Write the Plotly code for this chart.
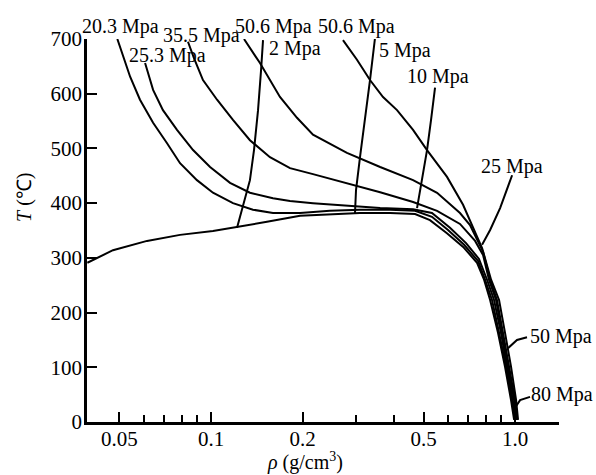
import math
import plotly.graph_objects as go

# Saturation (coexistence) curve: density (g/cm3) and temperature (C)
sat_rho = [0.0392, 0.0476, 0.0616, 0.0791, 0.1015, 0.1218, 0.1528, 0.1963, 0.246, 0.309, 0.388, 0.469,
           0.525, 0.597, 0.675, 0.750, 0.791, 0.828, 0.879, 0.927, 0.970, 0.993]
sat_T = [291, 314, 331, 342, 349, 356, 366, 377, 380, 382, 382, 380,
         369, 345, 320, 291, 260, 223, 163, 101, 40, 4]

# Isobars
p203_rho = [0.0492, 0.0514, 0.0542, 0.0584, 0.0645, 0.0716, 0.0791, 0.0899, 0.1015, 0.1181, 0.1374, 0.1599,
            0.1963, 0.246, 0.309, 0.388, 0.469, 0.533, 0.602, 0.680, 0.756, 0.797, 0.840, 0.886, 0.934, 0.978, 1.0]
p203_T = [700, 667, 631, 589, 547, 510, 473, 442, 419, 400, 388, 382,
          382, 386, 388, 388, 386, 375, 351, 324, 294, 260, 223, 163, 101, 40, 4]

p253_rho = [0.0607, 0.0645, 0.0695, 0.0773, 0.0873, 0.0993, 0.1155, 0.1343, 0.1599, 0.1819, 0.2165, 0.280,
            0.360, 0.462, 0.533, 0.611, 0.690, 0.761, 0.809, 0.853, 0.899, 0.941, 0.985, 1.008]
p253_T = [656, 607, 570, 534, 497, 466, 437, 419, 409, 404, 400, 395,
          391, 389, 382, 355, 327, 298, 260, 223, 163, 101, 40, 4]

p355_rho = [0.0840, 0.0879, 0.0941, 0.1047, 0.1181, 0.1343, 0.1563, 0.1819, 0.2165, 0.280, 0.360, 0.462,
            0.554, 0.659, 0.739, 0.785, 0.821, 0.866, 0.906, 0.948, 0.993, 1.015]
p355_T = [695, 665, 625, 589, 552, 515, 484, 464, 453, 437, 420, 402,
          386, 362, 331, 305, 260, 223, 163, 101, 40, 4]

p506a_rho = [0.1284, 0.1449, 0.1686, 0.1918, 0.2165, 0.280, 0.360, 0.462, 0.554, 0.659, 0.711, 0.750,
             0.785, 0.828, 0.872, 0.913, 0.956, 1.0, 1.015]
p506a_T = [700, 656, 594, 556, 525, 492, 466, 442, 419, 382, 360, 333,
           311, 260, 223, 163, 101, 40, 4]

p506b_rho = [0.2717, 0.3021, 0.3334, 0.368, 0.4091, 0.4619, 0.5135, 0.5974, 0.6745, 0.750, 0.779,
             0.834, 0.886, 0.927, 0.970, 1.008, 1.023]
p506b_T = [698, 662, 625, 594, 570, 534, 497, 448, 397, 338, 318,
           260, 223, 163, 101, 40, 4]

# Near-vertical pressure lines
p2_rho = [0.1218, 0.1274, 0.1343, 0.1385, 0.1428, 0.1461, 0.1483]
p2_T = [355, 393, 442, 497, 570, 643, 698]

p5_rho = [0.2976, 0.2999, 0.3091, 0.3210, 0.3334, 0.346]
p5_T = [382, 424, 484, 552, 625, 700]

p10_rho = [0.4761, 0.4870, 0.5135, 0.5293, 0.5456]
p10_T = [391, 424, 497, 552, 611]

p25_rho = [0.779, 0.828, 0.893, 0.941, 0.978]
p25_T = [324, 351, 391, 424, 451]

p50_rho = [0.948, 1.015, 1.095]
p50_T = [135, 150, 155]

p80_rho = [1.0, 1.039, 1.120]
p80_T = [26, 40, 46]

curves = [
    (sat_rho, sat_T), (p203_rho, p203_T), (p253_rho, p253_T), (p355_rho, p355_T),
    (p506a_rho, p506a_T), (p506b_rho, p506b_T), (p2_rho, p2_T), (p5_rho, p5_T),
    (p10_rho, p10_T), (p25_rho, p25_T), (p50_rho, p50_T), (p80_rho, p80_T),
]

label_texts = ["20.3 Mpa", "25.3 Mpa", "35.5 Mpa", "50.6 Mpa", "2 Mpa", "50.6 Mpa",
               "5 Mpa", "10 Mpa", "25 Mpa", "50 Mpa", "80 Mpa"]

x_major = [0.05, 0.1, 0.2, 0.5, 1.0]
x_major_text = ["0.05", "0.1", "0.2", "0.5", "1.0"]
x_minor = [0.06, 0.07, 0.08, 0.09, 0.3, 0.4, 0.6, 0.7, 0.8, 0.9]
y_ticks = [0, 100, 200, 300, 400, 500, 600, 700]

FONT = "Liberation Serif, Times New Roman, serif"

fig = go.Figure()
for r, t in curves:
    fig.add_trace(go.Scatter(x=r, y=t, mode="lines", line=dict(color="black", width=2),
                             showlegend=False, hoverinfo="skip"))

# label positions (paper coordinates of the plot area)
label_pos = [(0.070, 1.033), (0.170, 0.958), (0.242, 1.008), (0.396, 1.033), (0.441, 0.974),
             (0.572, 1.033), (0.674, 0.971), (0.744, 0.903), (0.900, 0.668), (1.004, 0.222),
             (1.006, 0.071)]
for text, (px, py) in zip(label_texts, label_pos):
    fig.add_annotation(x=px, y=py, xref="paper", yref="paper", text=text, showarrow=False,
                       xanchor="center", yanchor="middle",
                       font=dict(family=FONT, size=20, color="black"))

fig.add_annotation(x=0.462, y=-0.104, xref="paper", yref="paper",
                   xanchor="center", yanchor="middle",
                   text="<i>ρ</i> (g/cm<sup>3</sup>)", showarrow=False,
                   font=dict(family=FONT, size=20, color="black"))
fig.add_annotation(x=-0.134, y=0.587, xref="paper", yref="paper", textangle=-90,
                   xanchor="center", yanchor="middle",
                   text="<i>T</i> (℃)", showarrow=False,
                   font=dict(family=FONT, size=20, color="black"))

fig.update_layout(
    width=596, height=475,
    margin=dict(l=87, r=37, t=39, b=53),
    paper_bgcolor="white", plot_bgcolor="white",
    font=dict(family=FONT, size=21, color="black"),
    xaxis=dict(type="log", range=[math.log10(0.0391), math.log10(1.395)],
               tickmode="array", tickvals=x_major, ticktext=x_major_text,
               ticks="inside", ticklen=10, tickwidth=2, tickcolor="black",
               ticklabelstandoff=-4,
               showline=True, linecolor="black", linewidth=2.5,
               showgrid=False, zeroline=False,
               minor=dict(tickmode="array", tickvals=x_minor, ticks="inside",
                          ticklen=7, tickwidth=2, tickcolor="black", showgrid=False)),
    yaxis=dict(range=[0, 700], tickmode="array", tickvals=y_ticks,
               ticks="inside", ticklen=10, tickwidth=2, tickcolor="black",
               ticklabelstandoff=-2,
               showline=True, linecolor="black", linewidth=2.5,
               showgrid=False, zeroline=False),
)

fig.write_html("out.html", config={"displayModeBar": False},
               post_script="document.body.style.margin='0';document.body.style.overflow='hidden';")
